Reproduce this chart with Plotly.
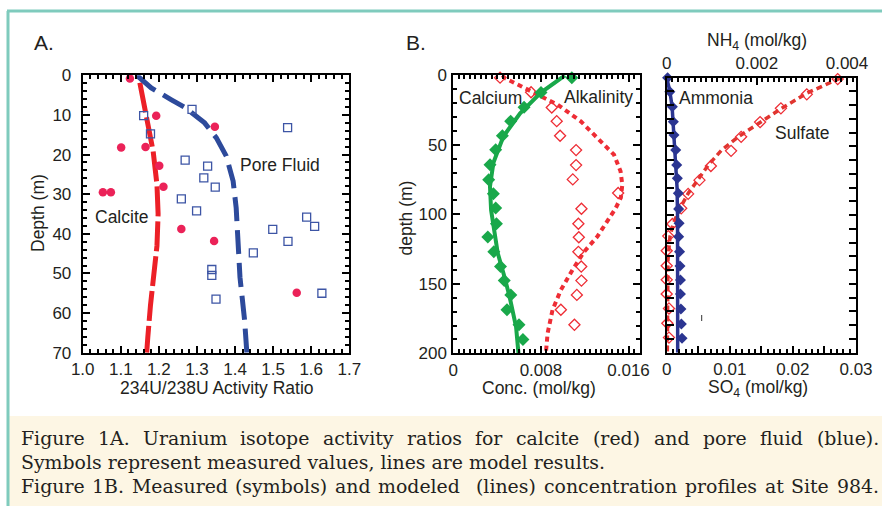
import plotly.graph_objects as go

# ---------------- Panel A data ----------------
calcite_ratio = [1.124, 1.193, 1.347, 1.101, 1.165, 1.201, 1.212, 1.053, 1.074, 1.259, 1.345, 1.562]
calcite_depth = [0.8, 10.2, 13.0, 18.2, 18.1, 22.8, 28.1, 29.5, 29.5, 38.8, 41.8, 54.9]

pore_ratio = [1.287, 1.160, 1.178, 1.538, 1.269, 1.328, 1.318, 1.348, 1.259, 1.299, 1.588,
              1.499, 1.539, 1.609, 1.448, 1.339, 1.339, 1.628, 1.350]
pore_depth = [8.6, 10.2, 14.8, 13.2, 21.4, 22.9, 25.9, 28.2, 31.2, 34.2, 35.8,
              38.9, 41.9, 38.1, 44.8, 49.0, 50.5, 55.0, 56.5]

calcite_model_ratio = [1.150, 1.167, 1.185, 1.195, 1.198, 1.195, 1.185, 1.178, 1.171, 1.168]
calcite_model_depth = [1.9, 10.8, 19.2, 27.6, 35.0, 43.0, 51.0, 58.0, 66.0, 70.0]

pore_model_ratio = [1.142, 1.180, 1.233, 1.268, 1.320, 1.351, 1.377, 1.395, 1.403, 1.408, 1.413, 1.425, 1.431]
pore_model_depth = [0.0, 3.2, 6.2, 8.1, 12.0, 15.8, 20.4, 26.7, 33.5, 42.0, 51.0, 61.7, 70.0]

# ---------------- Panel B (left) data ----------------
calcium_conc = [0.01082, 0.00801, 0.00646, 0.00524, 0.00448, 0.00387, 0.00335, 0.00323, 0.00366, 0.00387,
                0.00394, 0.00315, 0.00370, 0.00431, 0.00465, 0.00525, 0.00490, 0.00600, 0.00636]
calcium_depth = [1.7, 12.4, 23.0, 33.0, 43.5, 53.6, 64.4, 75.1, 85.2, 95.5,
                 106.8, 116.4, 126.9, 137.6, 147.7, 158.0, 168.7, 179.5, 190.0]

calcium_model_conc = [0.0102, 0.0080, 0.0061, 0.00457, 0.00366, 0.00335, 0.00345, 0.00372, 0.00406,
                      0.00460, 0.00513, 0.00573, 0.00595]
calcium_model_depth = [0.0, 12.4, 27.3, 44.0, 63.0, 80.0, 97.0, 113.0, 128.0, 143.0, 159.0, 181.0, 200.0]

alk_conc = [0.00427, 0.00710, 0.00899, 0.00944, 0.00975, 0.01121, 0.01121, 0.01091, 0.01505, 0.01170,
            0.01142, 0.01146, 0.01142, 0.01168, 0.01170, 0.01128, 0.00982, 0.01106]
alk_depth = [1.7, 12.2, 23.2, 33.0, 43.5, 53.8, 64.6, 74.9, 84.7, 96.0,
             106.8, 116.5, 127.0, 137.6, 147.7, 158.0, 168.7, 179.5]

alk_model_conc = [0.0045, 0.00467, 0.0074, 0.00952, 0.01164, 0.01315, 0.01467, 0.01527, 0.01543, 0.01530,
                  0.01480, 0.01315, 0.01194, 0.01088, 0.00982, 0.00906, 0.00861, 0.00845]
alk_model_depth = [0.0, 1.9, 12.7, 21.1, 33.1, 45.1, 57.1, 69.1, 78.7, 88.0,
                   96.0, 116.0, 127.0, 140.0, 154.5, 168.8, 185.6, 200.0]

# ---------------- Panel B (right) data ----------------
sulfate_conc = [0.0271, 0.0222, 0.0181, 0.0148, 0.0118, 0.0102, 0.0070, 0.0052, 0.0034, 0.0023,
                0.0009, 0.00025, 0.0, 0.0, 0.0, 0.0, 0.00036, 0.0001, 0.00036]
sulfate_depth = [1.0, 12.1, 22.3, 32.3, 43.0, 53.2, 64.2, 74.5, 84.5, 95.0,
                 106.4, 115.2, 125.8, 136.8, 147.0, 157.3, 167.8, 178.6, 189.0]

sulfate_model_conc = [0.0275, 0.02219, 0.01822, 0.01452, 0.01135, 0.00872, 0.0066, 0.00475, 0.00342,
                      0.00211, 0.00105, 0.00052, 0.0002, 0.0001]
sulfate_model_depth = [0.3, 11.3, 22.3, 33.2, 42.9, 52.6, 63.5, 75.6, 84.0, 95.0, 105.9, 115.6, 132.6, 200.0]

ammonia_conc = [0.00002, 0.00007, 0.000125, 0.000147, 0.000162, 0.0002, 0.000222, 0.000236, 0.000258, 0.000265,
                0.000275, 0.000265, 0.000285, 0.000295, 0.000305, 0.000305, 0.000315, 0.000325, 0.00034]
ammonia_depth = [0.0, 10.2, 21.1, 32.0, 41.7, 52.6, 63.5, 73.2, 84.0, 95.4,
                 105.9, 115.6, 126.5, 137.0, 147.1, 157.3, 168.2, 179.1, 189.5]

ammonia_model_conc = [0.0, 0.00007, 0.00012, 0.00016, 0.0002, 0.00023, 0.00024, 0.000244]
ammonia_model_depth = [0.0, 10.0, 21.0, 40.0, 60.0, 80.0, 100.0, 200.0]

# ---------------- Tick labels & text ----------------
a_x_ticks = [1.0, 1.1, 1.2, 1.3, 1.4, 1.5, 1.6, 1.7]
a_y_ticks = [0, 10, 20, 30, 40, 50, 60, 70]
bl_x_tickvals = [0, 0.008, 0.016]
bl_x_ticktext = ["0", "0.008", "0.016"]
b_y_ticks = [0, 50, 100, 150, 200]
so4_tickvals = [0, 0.005, 0.01, 0.015, 0.02, 0.025, 0.03]
so4_ticktext = ["0", "", "0.01", "", "0.02", "", "0.03"]
nh4_tickvals = [0, 0.002, 0.004]
nh4_ticktext = ["0", "0.002", "0.004"]

caption1_words = ["Figure", "1A.", "Uranium", "isotope", "activity", "ratios", "for", "calcite",
                  "(red)", "and", "pore", "fluid", "(blue)."]
caption2 = "Symbols represent measured values, lines are model results."
caption3_words = ["Figure", "1B.", "Measured", "(symbols)", "and", "modeled", "(lines)",
                  "concentration", "profiles", "at", "Site", "984."]

W, H = 882, 506
def px(x):
    return x / W
def py(y):
    return 1 - y / H

SANS = "Liberation Sans, Arial, sans-serif"
TXT = "#231f20"

fig = go.Figure()

# Panel A
fig.add_trace(go.Scatter(x=calcite_model_ratio, y=calcite_model_depth, mode="lines",
                         line=dict(color="#ec2027", width=5, dash="30px,5px"),
                         xaxis="x", yaxis="y", showlegend=False))
fig.add_trace(go.Scatter(x=pore_model_ratio, y=pore_model_depth, mode="lines",
                         line=dict(color="#2d4a9b", width=5, dash="24px,9px"),
                         xaxis="x", yaxis="y", showlegend=False))
fig.add_trace(go.Scatter(x=pore_ratio, y=pore_depth, mode="markers",
                         marker=dict(symbol="square-open", size=8, color="#3d55a5", line=dict(width=1.3)),
                         xaxis="x", yaxis="y", showlegend=False, cliponaxis=False))
fig.add_trace(go.Scatter(x=calcite_ratio, y=calcite_depth, mode="markers",
                         marker=dict(symbol="circle", size=8.5, color="#eb2258"),
                         xaxis="x", yaxis="y", showlegend=False, cliponaxis=False))

# Panel B left
fig.add_trace(go.Scatter(x=alk_model_conc, y=alk_model_depth, mode="lines",
                         line=dict(color="#ee2d35", width=4, dash="5px,4px"),
                         xaxis="x2", yaxis="y2", showlegend=False))
fig.add_trace(go.Scatter(x=alk_conc, y=alk_depth, mode="markers",
                         marker=dict(symbol="diamond-open", size=8.5, color="#ee2d35", line=dict(width=1.3)),
                         xaxis="x2", yaxis="y2", showlegend=False, cliponaxis=False))
fig.add_trace(go.Scatter(x=calcium_model_conc, y=calcium_model_depth, mode="lines",
                         line=dict(color="#19a84a", width=4),
                         xaxis="x2", yaxis="y2", showlegend=False))
fig.add_trace(go.Scatter(x=calcium_conc, y=calcium_depth, mode="markers",
                         marker=dict(symbol="diamond", size=10, color="#19a84a"),
                         xaxis="x2", yaxis="y2", showlegend=False, cliponaxis=False))

# Panel B right
fig.add_trace(go.Scatter(x=sulfate_model_conc, y=sulfate_model_depth, mode="lines",
                         line=dict(color="#e0352f", width=3.5, dash="6px,4px"),
                         xaxis="x3", yaxis="y3", showlegend=False))
fig.add_trace(go.Scatter(x=sulfate_conc, y=sulfate_depth, mode="markers",
                         marker=dict(symbol="diamond-open", size=8.5, color="#ee2d35", line=dict(width=1.3)),
                         xaxis="x3", yaxis="y3", showlegend=False, cliponaxis=False))
fig.add_trace(go.Scatter(x=ammonia_model_conc, y=ammonia_model_depth, mode="lines",
                         line=dict(color="#2b3591", width=3.5),
                         xaxis="x4", yaxis="y3", showlegend=False))
fig.add_trace(go.Scatter(x=ammonia_conc, y=ammonia_depth, mode="markers",
                         marker=dict(symbol="diamond", size=8.5, color="#2b3591"),
                         xaxis="x4", yaxis="y3", showlegend=False, cliponaxis=False))

tickfont = dict(family=SANS, size=17, color=TXT)
def minor(dt, t0=0):
    return dict(dtick=dt, tick0=t0, ticks="inside", ticklen=4, tickwidth=1.5, tickcolor="black", showgrid=False)

common = dict(showgrid=False, zeroline=False, showline=True, linecolor="black", linewidth=2,
              ticks="inside", ticklen=7, tickwidth=2, tickcolor="black", tickfont=tickfont,
              automargin=False)

fig.update_layout(
    template="none",
    width=W, height=H, autosize=False,
    margin=dict(l=0, r=0, t=0, b=0, pad=0),
    paper_bgcolor="white", plot_bgcolor="white",
    xaxis=dict(domain=[px(82.7), px(349.3)], anchor="y", range=[1.0, 1.7], tickvals=a_x_ticks,
               tickformat=".1f", mirror="allticks", minor=minor(0.02, 1.0), **common),
    yaxis=dict(domain=[py(352.7), py(75.3)], anchor="x", range=[70, 0], tickvals=a_y_ticks,
               mirror="allticks", minor=minor(2), ticklabelstandoff=6, **common),
    xaxis2=dict(domain=[px(453.3), px(639.5)], anchor="y2", range=[0, 0.017], tickvals=bl_x_tickvals,
                ticktext=bl_x_ticktext, mirror="allticks", minor=minor(0.0005), **common),
    yaxis2=dict(domain=[py(353.3), py(75.3)], anchor="x2", range=[200, 0], tickvals=b_y_ticks,
                mirror="allticks", minor=minor(10), ticklabelstandoff=1, **common),
    xaxis3=dict(domain=[px(666.7), px(856)], anchor="y3", range=[0, 0.03], tickvals=so4_tickvals,
                ticktext=so4_ticktext, mirror=False, minor=minor(0.001), **common),
    xaxis4=dict(overlaying="x3", anchor="y3", side="top", range=[0, 0.0042], tickvals=nh4_tickvals,
                ticktext=nh4_ticktext, minor=minor(0.000125), **common),
    yaxis3=dict(domain=[py(352.7), py(77.7)], anchor="x3", range=[200, 0], tickvals=b_y_ticks,
                showticklabels=False, mirror="allticks", minor=minor(10), **common),
)

ann = []
def label(text, x, y, size=17.5, xanchor="center", angle=0, family=SANS):
    ann.append(dict(text=text, x=px(x), y=py(y), xref="paper", yref="paper", showarrow=False,
                    xanchor=xanchor, yanchor="middle", textangle=angle,
                    font=dict(family=family, size=size, color=TXT)))

label("A.", 32, 43, size=21, xanchor="left")
label("B.", 404, 43, size=21, xanchor="left")
label("234U/238U Activity Ratio", 216.7, 388)
label("Depth (m)", 38, 213, angle=-90)
label("Pore Fluid", 280, 165)
label("Calcite", 121.7, 217)
label("Conc. (mol/kg)", 539, 388)
label("depth (m)", 405.5, 218, angle=-90)
label("Calcium", 490.5, 98)
label("Alkalinity", 598.5, 97)
label("Ammonia", 716, 98)
label("Sulfate", 802, 133)
label("SO<sub>4</sub> (mol/kg)", 758, 388)
label("NH<sub>4</sub> (mol/kg)", 757, 42)

# caption (lines 1 and 3 justified across the box)
SERIF = "DejaVu Serif, serif"
CAP = 18.9
word_x1 = [19, 95.8, 141.0, 237.8, 320.7, 404.7, 473.2, 514.2, 591.0, 651.6, 700.7, 757.9, 814.8]
for w, x in zip(caption1_words, word_x1):
    label(w, x, 438, size=CAP, xanchor="left", family=SERIF)
label(caption2, 19, 462, size=CAP, xanchor="left", family=SERIF)
word_x3 = [19, 90.1, 129.7, 233.0, 333.0, 376.3, 473.8, 541.5, 682.5, 762.7, 789.4, 834.9]
for w, x in zip(caption3_words, word_x3):
    label(w, x, 486, size=CAP, xanchor="left", family=SERIF)

fig.update_layout(annotations=ann)

fig.update_layout(shapes=[
    dict(type="rect", xref="paper", yref="paper", x0=px(9), x1=1, y0=0, y1=py(416),
         fillcolor="#fdf6e4", line=dict(width=0), layer="below"),
    dict(type="line", xref="paper", yref="paper", x0=px(7), x1=1, y0=py(11), y1=py(11),
         line=dict(color="#7fcbbd", width=3)),
    dict(type="line", xref="paper", yref="paper", x0=px(8), x1=px(8), y0=0, y1=py(11),
         line=dict(color="#7fcbbd", width=3)),
    dict(type="line", xref="paper", yref="paper", x0=px(701.7), x1=px(701.7), y0=py(315), y1=py(321),
         line=dict(color="#333333", width=1)),
])

fig.write_html("out.html", config={"displayModeBar": False},
               post_script="document.body.style.margin='0';document.body.style.overflow='hidden';")
